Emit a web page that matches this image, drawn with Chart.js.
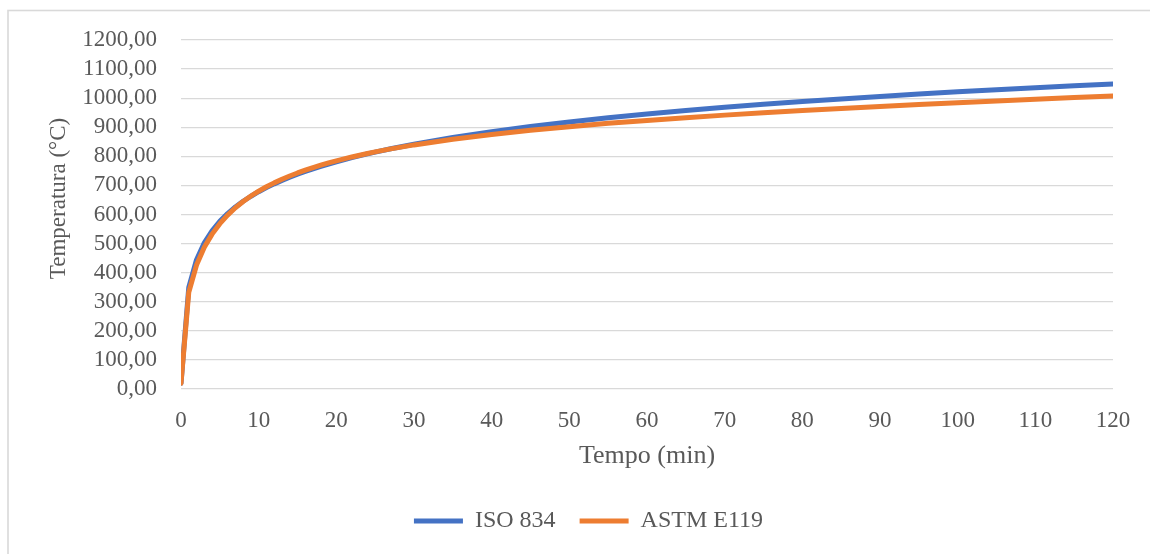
<!DOCTYPE html>
<html>
<head>
<meta charset="utf-8">
<script src="https://cdn.jsdelivr.net/npm/chart.js@4/dist/chart.umd.min.js"></script>
<style>
  html, body { margin: 0; padding: 0; background: #fff; }
  #wrap { position: relative; width: 1150px; height: 554px; }
</style>
</head>
<body>
<div id="wrap"><canvas id="c" width="1150" height="554"></canvas></div>
<script>
// Time in minutes
const tempo = [0, 1, 2, 3, 4, 5, 6, 7, 8, 9, 10, 11, 12, 13, 14, 15, 16, 17, 18, 19, 20,
               22, 24, 25, 27, 30, 35, 40, 45, 50, 55, 60,
               65, 70, 75, 80, 85, 90, 95, 100, 105, 110, 115, 120];

// Temperature (°C), ISO 834 curve
const iso834 = [20, 349.2, 444.5, 502.3, 543.9, 576.4, 603.1, 625.8, 645.5, 662.8, 678.4,
                692.5, 705.4, 717.3, 728.3, 738.6, 748.2, 757.2, 765.7, 773.7, 781.3,
                795.6, 808.5, 814.6, 826.1, 841.8, 864.8, 884.7, 902.3, 918.1, 932.3, 945.3,
                957.3, 968.4, 978.7, 988.4, 997.4, 1006.0, 1014.1, 1021.7, 1029.0, 1036.0, 1042.7, 1049.0];

// Temperature (°C), ASTM E119 curve
const astmE119 = [20, 332.6, 426.0, 487.1, 532.5, 568.5, 598.1, 623.1, 644.6, 663.6, 680.3,
                  695.3, 708.8, 721.1, 732.4, 742.8, 752.3, 761.3, 769.5, 777.3, 784.6,
                  797.9, 809.9, 815.3, 825.5, 839.3, 858.9, 875.3, 889.6, 902.1, 913.4, 923.6,
                  933.0, 941.7, 949.7, 957.4, 964.6, 971.5, 978.1, 984.4, 990.4, 996.3, 1002.0, 1007.5];

const seriesNames = ['ISO 834', 'ASTM E119'];
const xTitle = 'Tempo (min)';
const yTitle = 'Temperatura (°C)';

const FONT = "'Liberation Serif', 'Times New Roman', serif";
const TEXT = '#595959';
const GRID = '#d9d9d9';

const toPoints = (ys) => tempo.map((t, i) => ({ x: t, y: ys[i] }));

// Light frame around the whole chart, plus the vertical axis title
const framePlugin = {
  id: 'frame',
  beforeDraw(chart) {
    const ctx = chart.ctx;
    ctx.save();
    ctx.fillStyle = '#fff';
    ctx.fillRect(0, 0, chart.width, chart.height);
    ctx.strokeStyle = GRID;
    ctx.lineWidth = 1.6;
    ctx.strokeRect(8, 10.5, chart.width + 20, chart.height + 20);
    ctx.restore();
  },
  afterDraw(chart) {
    const ctx = chart.ctx;
    const area = chart.chartArea;
    ctx.save();
    ctx.translate(59, (area.top + area.bottom) / 2 - 16);
    ctx.rotate(-Math.PI / 2);
    ctx.fillStyle = TEXT;
    ctx.font = "23px " + FONT;
    ctx.textAlign = 'center';
    ctx.textBaseline = 'middle';
    ctx.fillText(yTitle, 0, 0);
    ctx.restore();
  }
};

new Chart(document.getElementById('c'), {
  type: 'line',
  data: {
    datasets: [
      {
        label: seriesNames[0],
        data: toPoints(iso834),
        borderColor: '#4472C4',
        backgroundColor: '#4472C4',
        borderWidth: 5,
        borderCapStyle: 'round',
        borderJoinStyle: 'round',
        pointRadius: 0,
        tension: 0,
        order: 2
      },
      {
        label: seriesNames[1],
        data: toPoints(astmE119),
        borderColor: '#ED7D31',
        backgroundColor: '#ED7D31',
        borderWidth: 5,
        borderCapStyle: 'round',
        borderJoinStyle: 'round',
        pointRadius: 0,
        tension: 0,
        order: 1
      }
    ]
  },
  options: {
    responsive: false,
    animation: false,
    layout: { padding: { left: 64, right: 37, top: 40, bottom: 11 } },
    plugins: {
      tooltip: { enabled: false },
      legend: {
        position: 'bottom',
        reverse: true,
        labels: {
          usePointStyle: true,
          pointStyle: 'line',
          pointStyleWidth: 49,
          padding: 24,
          color: TEXT,
          font: { family: FONT, size: 24 }
        }
      }
    },
    scales: {
      x: {
        type: 'linear',
        min: 0,
        max: 120,
        ticks: {
          stepSize: 10,
          padding: 18,
          color: TEXT,
          font: { family: FONT, size: 23 }
        },
        grid: { display: false, drawTicks: false },
        border: { display: false },
        title: {
          display: true,
          text: xTitle,
          color: TEXT,
          font: { family: FONT, size: 26 },
          padding: { top: 0, bottom: 13 }
        },
        afterFit(scale) { scale.height = 96; }
      },
      y: {
        min: 0,
        max: 1200,
        ticks: {
          stepSize: 100,
          autoSkip: false,
          padding: 24,
          color: TEXT,
          font: { family: FONT, size: 23 },
          callback: (v) => v.toFixed(2).replace('.', ',')
        },
        grid: { color: GRID, lineWidth: 1.3, drawTicks: false },
        border: { display: false },
        afterFit(scale) { scale.width = 117; }
      }
    }
  },
  plugins: [framePlugin]
});
</script>
</body>
</html>
